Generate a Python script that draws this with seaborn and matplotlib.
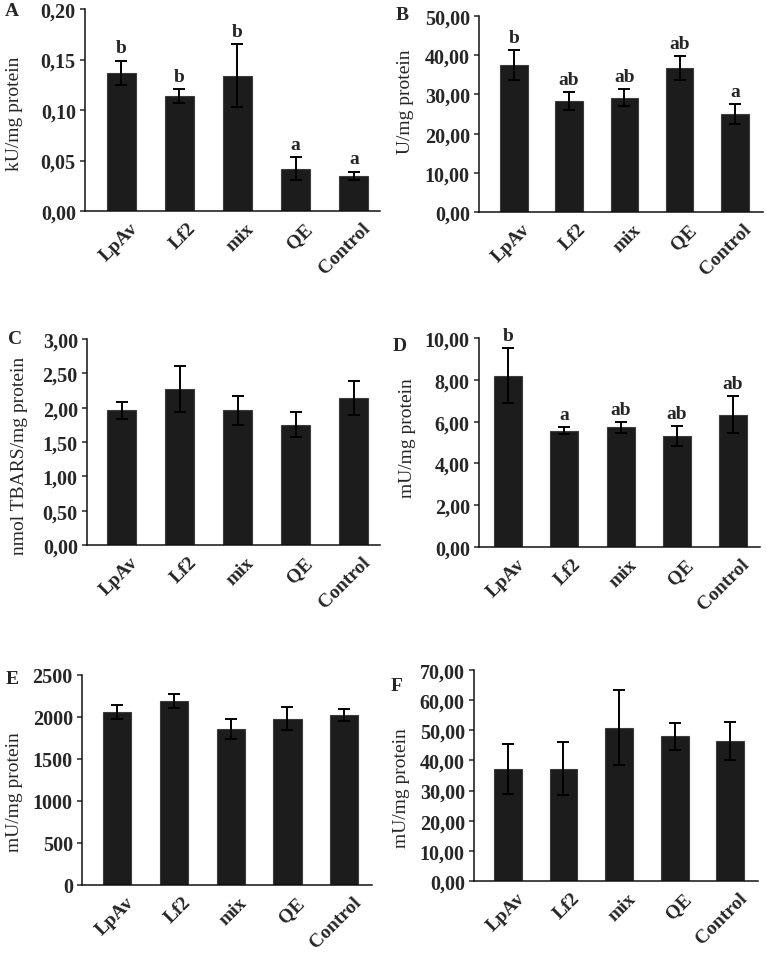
import numpy as np
import pandas as pd
import matplotlib
matplotlib.use("Agg")
import matplotlib.pyplot as plt
import seaborn as sns
from matplotlib.transforms import ScaledTranslation

# ---------------- data ----------------
categories = ["LpAv", "Lf2", "mix", "QE", "Control"]

a_values = [0.137, 0.114, 0.134, 0.042, 0.035]
a_errors = [0.012, 0.007, 0.031, 0.011, 0.004]
a_letters = ["b", "b", "b", "a", "a"]
a_ticks = [0.00, 0.05, 0.10, 0.15, 0.20]
a_ticklabels = ["0,00", "0,05", "0,10", "0,15", "0,20"]

b_values = [37.5, 28.3, 29.2, 36.8, 25.0]
b_errors = [3.9, 2.2, 2.1, 3.0, 2.5]
b_letters = ["b", "ab", "ab", "ab", "a"]
b_ticks = [0, 10, 20, 30, 40, 50]
b_ticklabels = ["0,00", "10,00", "20,00", "30,00", "40,00", "50,00"]

c_values = [1.96, 2.27, 1.96, 1.75, 2.14]
c_errors = [0.12, 0.33, 0.21, 0.18, 0.25]
c_letters = ["", "", "", "", ""]
c_ticks = [0.0, 0.5, 1.0, 1.5, 2.0, 2.5, 3.0]
c_ticklabels = ["0,00", "0,50", "1,00", "1,50", "2,00", "2,50", "3,00"]

d_values = [8.20, 5.57, 5.72, 5.30, 6.33]
d_errors = [1.30, 0.16, 0.25, 0.47, 0.88]
d_letters = ["b", "a", "ab", "ab", "ab"]
d_ticks = [0, 2, 4, 6, 8, 10]
d_ticklabels = ["0,00", "2,00", "4,00", "6,00", "8,00", "10,00"]

e_values = [2063, 2188, 1857, 1978, 2027]
e_errors = [85, 83, 118, 138, 70]
e_letters = ["", "", "", "", ""]
e_ticks = [0, 500, 1000, 1500, 2000, 2500]
e_ticklabels = ["0", "500", "1000", "1500", "2000", "2500"]

f_values = [37.3, 37.3, 50.9, 48.0, 46.6]
f_errors = [8.3, 8.8, 12.3, 4.5, 6.3]
f_letters = ["", "", "", "", ""]
f_ticks = [0, 10, 20, 30, 40, 50, 60, 70]
f_ticklabels = ["0,00", "10,00", "20,00", "30,00", "40,00", "50,00", "60,00", "70,00"]

panel_names = ["A", "B", "C", "D", "E", "F"]
y_labels = ["kU/mg protein", "U/mg protein", "nmol TBARS/mg protein",
            "mU/mg protein", "mU/mg protein", "mU/mg protein"]

# ---------------- style ----------------
sns.set_style("ticks")
plt.rcParams["font.family"] = ["Liberation Serif", "DejaVu Serif"]
plt.rcParams["axes.edgecolor"] = "#111111"

W, H = 767, 954
fig = plt.figure(figsize=(W / 100, H / 100), dpi=100)

panels = [
    dict(v=a_values, e=a_errors, l=a_letters, t=a_ticks, tl=a_ticklabels,
         box=(85, 380, 10, 212), xlim=(-0.62, 4.45), name=(12, 12), yl=(15, 114)),
    dict(v=b_values, e=b_errors, l=b_letters, t=b_ticks, tl=b_ticklabels,
         box=(479, 763, 17, 213), xlim=(-0.63, 4.51), name=(402, 15), yl=(405, 102)),
    dict(v=c_values, e=c_errors, l=c_letters, t=c_ticks, tl=c_ticklabels,
         box=(87, 380, 340, 546), xlim=(-0.60, 4.45), name=(15, 340), yl=(20, 456)),
    dict(v=d_values, e=d_errors, l=d_letters, t=d_ticks, tl=d_ticklabels,
         box=(479, 760, 339, 548), xlim=(-0.52, 4.48), name=(400, 347), yl=(407, 438)),
    dict(v=e_values, e=e_errors, l=e_letters, t=e_ticks, tl=e_ticklabels,
         box=(82, 372, 676, 886), xlim=(-0.62, 4.49), name=(12, 680), yl=(15, 792)),
    dict(v=f_values, e=f_errors, l=f_letters, t=f_ticks, tl=f_ticklabels,
         box=(474, 758, 671, 882), xlim=(-0.61, 4.50), name=(397, 687), yl=(402, 788)),
]

for p, pname, ylab in zip(panels, panel_names, y_labels):
    l, r, t, b = p["box"]
    ax = fig.add_axes([l / W, 1 - b / H, (r - l) / W, (b - t) / H])
    df = pd.DataFrame({"group": categories, "value": p["v"]})
    sns.barplot(data=df, x="group", y="value", order=categories,
                color="#1c1c1c", saturation=1, width=0.5,
                edgecolor="#3c3c3c", linewidth=0.8, errorbar=None, ax=ax)
    ax.errorbar(x=np.arange(len(categories)), y=p["v"], yerr=p["e"], fmt="none",
                ecolor="black", elinewidth=1.4, capsize=4.3, capthick=1.4, zorder=5)
    for i, (val, err, let) in enumerate(zip(p["v"], p["e"], p["l"])):
        if let:
            ax.annotate(let, xy=(i, val + err), xytext=(0, 3),
                        textcoords="offset points", ha="center", va="bottom",
                        fontsize=14, fontweight="bold")
    ax.set_ylim(p["t"][0], p["t"][-1])
    ax.set_xlim(*p["xlim"])
    ax.set_yticks(p["t"])
    ax.set_yticklabels(p["tl"], fontsize=14.5, fontweight="bold")
    ax.set_xticks(range(len(categories)))
    ax.set_xticklabels(categories, rotation=45, ha="right", va="top",
                       rotation_mode="anchor", fontsize=14, fontweight="bold")
    ax.tick_params(axis="y", length=3.6, width=1.1, pad=3, direction="out")
    ax.tick_params(axis="x", length=0, pad=6)
    for lab in ax.get_xticklabels():
        lab.set_transform(lab.get_transform() + ScaledTranslation(8 / 100, 0, fig.dpi_scale_trans))
    ax.set_xlabel("")
    ax.set_ylabel("")
    for s in ["left", "bottom"]:
        ax.spines[s].set_linewidth(1.1)
    sns.despine(ax=ax)
    nx, ny = p["name"]
    fig.text(nx / W, 1 - ny / H, pname, ha="center", va="center",
             fontsize=14, fontweight="bold")
    yx, yy = p["yl"]
    fig.text(yx / W, 1 - yy / H, ylab, ha="center", va="center",
             rotation=90, fontsize=14)

fig.savefig("out.png", dpi=100)
